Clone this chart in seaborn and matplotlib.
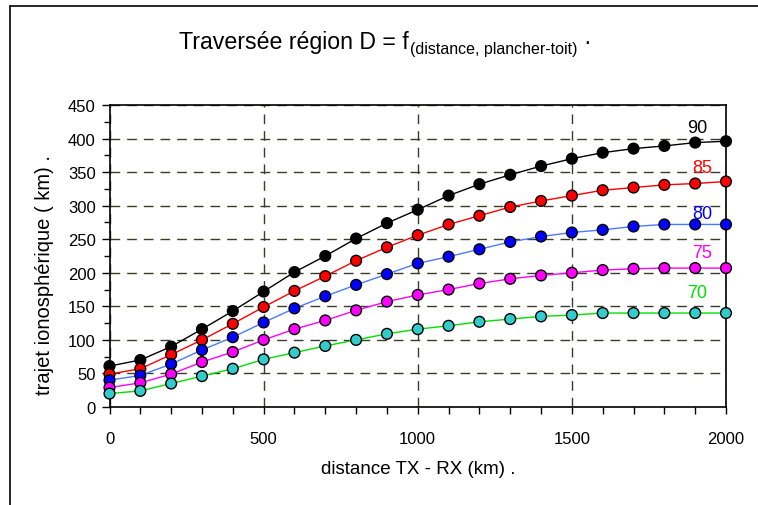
import matplotlib
matplotlib.use("Agg")
import matplotlib.pyplot as plt
from matplotlib.lines import Line2D
from matplotlib.ticker import MultipleLocator
import numpy as np
import pandas as pd
import seaborn as sns

# distance TX-RX (km)
distance = [0, 100, 200, 300, 400, 500, 600, 700, 800, 900, 1000,
            1100, 1200, 1300, 1400, 1500, 1600, 1700, 1800, 1900, 2000]

# ionospheric path through the D region (km), one series per angle
h90 = [61, 70, 90, 116, 143, 172, 201, 225, 251, 274, 294,
       315, 332, 346, 359, 370, 379, 385, 389, 394, 396]
h85 = [49, 57, 78, 100, 124, 149, 173, 195, 218, 238, 256,
       272, 285, 298, 307, 315, 323, 327, 331, 333, 336]
h80 = [40, 47, 64, 85, 104, 126, 147, 165, 182, 198, 214,
       224, 235, 246, 254, 260, 264, 269, 272, 272, 272]
h75 = [29, 36, 49, 67, 82, 100, 116, 129, 144, 157, 167,
       175, 184, 191, 196, 200, 204, 206, 207, 207, 207]
h70 = [20, 24, 35, 46, 57, 71, 81, 91, 100, 109, 116,
       121, 127, 131, 135, 137, 140, 140, 140, 140, 140]

series_names = ["90", "85", "80", "75", "70"]
series_values = [h90, h85, h80, h75, h70]

line_colors = {"90": "#000000", "85": "#ff0000", "80": "#4a7bff",
               "75": "#ff00ff", "70": "#00e000"}
marker_colors = {"90": "#000000", "85": "#ff0000", "80": "#0000ff",
                 "75": "#ff00ff", "70": "#33cccc"}
label_colors = {"90": "#000000", "85": "#ff0000", "80": "#0000ff",
                "75": "#ff00ff", "70": "#00e000"}
# where each curve name is written (data coords)
label_pos = {"90": (1906, 416), "85": (1922, 357), "80": (1922, 288),
             "75": (1922, 230), "70": (1906, 171)}

df = pd.concat(
    [pd.DataFrame({"distance": distance, "trajet": v, "serie": n})
     for n, v in zip(series_names, series_values)],
    ignore_index=True,
)

sns.set_theme(style="white")
plt.rcParams["font.family"] = ["Liberation Sans", "DejaVu Sans"]
plt.rcParams["text.color"] = "black"
plt.rcParams["axes.labelcolor"] = "black"

W, H = 758, 506
fig = plt.figure(figsize=(W / 100, H / 100), dpi=100)
ax = fig.add_axes([109.5 / W, 1 - 408 / H, (726 - 109.5) / W, (408 - 106) / H])

sns.lineplot(data=df, x="distance", y="trajet", hue="serie",
             palette=line_colors, hue_order=series_names,
             linewidth=1.0, legend=False, ax=ax, zorder=3)
sns.scatterplot(data=df, x="distance", y="trajet", hue="serie",
                palette=marker_colors, hue_order=series_names,
                s=60, edgecolor="black", linewidth=1.0,
                legend=False, ax=ax, zorder=4, clip_on=False)

for n in series_names:
    xx, yy = label_pos[n]
    ax.text(xx, yy, n, color=label_colors[n], fontsize=13,
            ha="center", va="center", zorder=5)

ax.set_xlim(0, 2000)
ax.set_ylim(0, 450)
ax.xaxis.set_major_locator(MultipleLocator(500))
ax.xaxis.set_minor_locator(MultipleLocator(100))
ax.yaxis.set_major_locator(MultipleLocator(50))
ax.yaxis.set_minor_locator(MultipleLocator(25))
ax.tick_params(axis="both", which="both", direction="out", color="black",
               labelsize=12, labelcolor="black")
ax.tick_params(axis="x", which="major", length=5, width=1, pad=12,
               bottom=True)
ax.tick_params(axis="x", which="minor", length=5, width=1, bottom=True)
ax.tick_params(axis="y", which="major", length=6, width=1, pad=4, left=True)
ax.tick_params(axis="y", which="minor", length=4, width=1, left=True)

ax.grid(True, which="major", axis="both", color="#3b3b2c",
        linestyle=(0, (7, 5)), linewidth=1.0, zorder=1)
ax.set_axisbelow(True)

for s in ax.spines.values():
    s.set_visible(True)
    s.set_color("black")
    s.set_linewidth(1.2)

ax.set_xlabel("distance TX - RX (km) .", fontsize=13.5)
ax.set_ylabel("trajet ionosphérique ( km) .", fontsize=14.5)
ax.xaxis.set_label_coords((418.5 - 109.5) / 616.5, (408 - 461) / 302)
ax.yaxis.set_label_coords((54 - 109.5) / 616.5, (408 - 275) / 302)

# outer frame of the chart area
fig.add_artist(Line2D([10 / W, 10 / W], [0, 1 - 7 / H],
                      transform=fig.transFigure, color="black", lw=1.2))
fig.add_artist(Line2D([10 / W, 1], [1 - 7 / H, 1 - 7 / H],
                      transform=fig.transFigure, color="black", lw=1.2))

# title with subscript
t_main = fig.text(179 / W, 1 - 49.5 / H, "Traversée région D = f",
                  fontsize=16.7, ha="left", va="baseline")
fig.canvas.draw()
r = fig.canvas.get_renderer()
bb = t_main.get_window_extent(renderer=r)
t_sub = fig.text((bb.x1 + 1) / W, 1 - 54 / H, "(distance, plancher-toit)",
                 fontsize=11.5, ha="left", va="baseline")
fig.canvas.draw()
bb2 = t_sub.get_window_extent(renderer=r)
fig.text((bb2.x1 + 6) / W, 1 - 49.5 / H, "·", fontsize=16.7,
         ha="left", va="baseline")

fig.savefig("out.png", dpi=100)
